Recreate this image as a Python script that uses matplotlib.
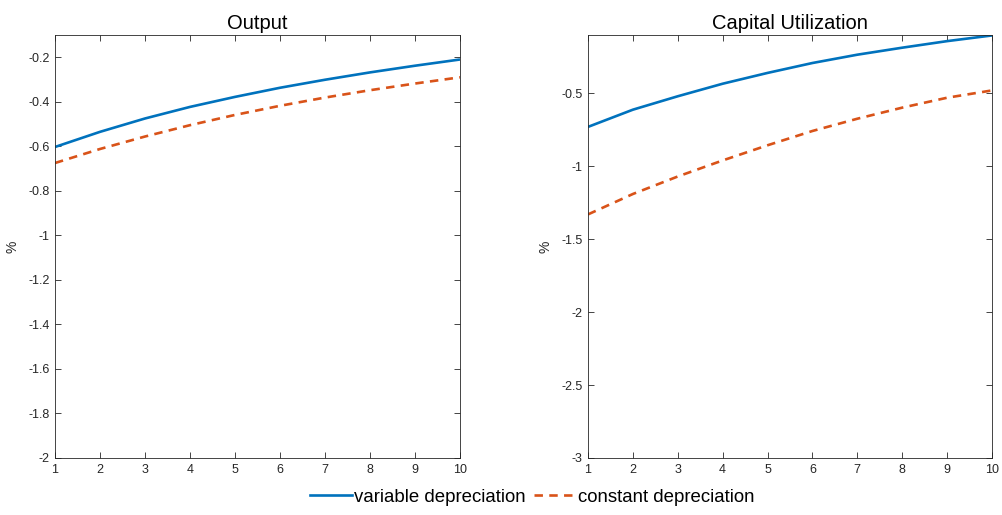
import matplotlib
matplotlib.use("Agg")
import matplotlib.pyplot as plt
from matplotlib.lines import Line2D

plt.rcParams['font.family'] = ['Liberation Sans', 'DejaVu Sans']

periods = list(range(1, 11))
output_variable = [-0.603, -0.535, -0.475, -0.423, -0.378, -0.337, -0.301, -0.268, -0.238, -0.21]
output_constant = [-0.675, -0.612, -0.556, -0.505, -0.459, -0.418, -0.381, -0.348, -0.318, -0.29]
util_variable = [-0.73, -0.612, -0.52, -0.434, -0.36, -0.292, -0.235, -0.187, -0.142, -0.103]
util_constant = [-1.33, -1.19, -1.07, -0.96, -0.856, -0.758, -0.674, -0.598, -0.53, -0.48]

titles = ["Output", "Capital Utilization"]
series_labels = ["variable depreciation", "constant depreciation"]
left_yticks = [-2, -1.8, -1.6, -1.4, -1.2, -1, -0.8, -0.6, -0.4, -0.2]
left_yticklabels = ["-2", "-1.8", "-1.6", "-1.4", "-1.2", "-1", "-0.8", "-0.6", "-0.4", "-0.2"]
right_yticks = [-3, -2.5, -2, -1.5, -1, -0.5]
right_yticklabels = ["-3", "-2.5", "-2", "-1.5", "-1", "-0.5"]

blue = "#0072BD"
orange = "#D95319"
W, H = 1003, 515
fig = plt.figure(figsize=(W / 100, H / 100), dpi=100)

def make_ax(x0, x1, y0, y1):
    return fig.add_axes([x0 / W, 1 - y1 / H, (x1 - x0) / W, (y1 - y0) / H])

ax1 = make_ax(55, 460, 35, 458)
ax2 = make_ax(588, 992, 35, 458)

dash = (0, (3.2, 2.4))
panels = [
    (ax1, output_variable, output_constant, (-2, -0.1), left_yticks, left_yticklabels, titles[0]),
    (ax2, util_variable, util_constant, (-3, -0.1), right_yticks, right_yticklabels, titles[1]),
]
for ax, v, c, ylim, yt, ytl, title in panels:
    ax.plot(periods, v, color=blue, lw=1.9, solid_capstyle='butt')
    ax.plot(periods, c, color=orange, lw=1.9, ls=dash, dash_capstyle='butt')
    ax.set_xlim(1, 10)
    ax.set_ylim(*ylim)
    ax.set_xticks(periods)
    ax.set_xticklabels([str(p) for p in periods])
    ax.set_yticks(yt)
    ax.set_yticklabels(ytl)
    ax.tick_params(direction='in', top=True, right=True, length=4, width=0.6,
                   labelsize=9, colors='#262626', pad=4)
    for s in ax.spines.values():
        s.set_color('#262626')
        s.set_linewidth(0.6)
    ax.set_title(title, fontsize=14.5, color='black', pad=4)
    ax.set_ylabel('%', fontsize=10, color='#262626', labelpad=6)

handles = [Line2D([], [], color=blue, lw=1.9),
           Line2D([], [], color=orange, lw=1.9, ls=dash)]
fig.legend(handles, series_labels, loc='center', bbox_to_anchor=(532 / W, 1 - 497 / H),
           ncol=2, frameon=False, fontsize=13.4, handlelength=2.25, handletextpad=0.12,
           columnspacing=0.45, borderpad=0)

fig.savefig("out.png", dpi=100)
